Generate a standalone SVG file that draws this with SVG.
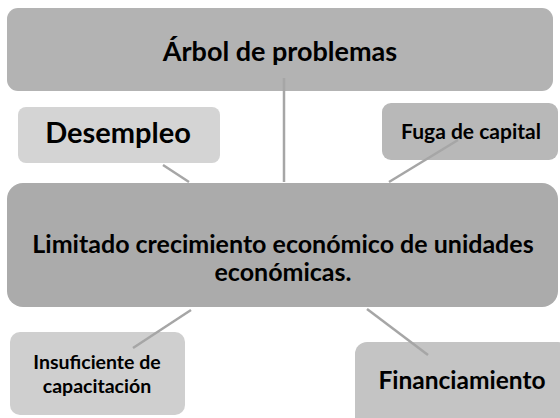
<svg xmlns="http://www.w3.org/2000/svg" width="560" height="418" viewBox="0 0 560 418">
<style>
text{font-family:Lato,"Open Sans","Liberation Sans",sans-serif;font-weight:bold;fill:#000;text-anchor:middle}
.c{stroke:#a6a6a6;stroke-width:2.5;fill:none}
</style>
<rect width="560" height="418" fill="#fff"/>
<g id="top"><rect x="7" y="8" width="546" height="83" rx="11" fill="#b3b3b3"/><text x="280" y="61" font-size="27">Árbol de problemas</text></g>
<g id="desempleo"><rect x="18" y="107" width="202" height="56" rx="8" fill="#d4d4d4"/><text x="118" y="143" font-size="29">Desempleo</text></g>
<g id="fuga"><rect x="382" y="103" width="176" height="57" rx="9" fill="#b8b8b8"/><text x="471" y="139" font-size="21">Fuga de capital</text></g>
<g id="main"><rect x="7" y="183" width="551" height="124" rx="16" fill="#ababab"/><text x="283" y="253" font-size="25">Limitado crecimiento económico de unidades</text><text x="283" y="281" font-size="25">económicas.</text></g>
<g id="insuficiente"><rect x="10" y="332" width="175" height="83" rx="10" fill="#cfcfcf"/><text x="97" y="369" font-size="19.5">Insuficiente de</text><text x="97" y="393" font-size="19.5">capacitación</text></g>
<g id="financiamiento"><rect x="355" y="342" width="215" height="90" rx="12" fill="#c4c4c4"/><text x="462" y="389" font-size="24.5">Financiamiento</text></g>
<g id="connectors">
<line class="c" x1="284" y1="78" x2="284" y2="182"/>
<line class="c" x1="163" y1="165" x2="189" y2="182"/>
<line class="c" x1="458" y1="140" x2="389" y2="182"/>
<line class="c" x1="191" y1="310" x2="133" y2="348"/>
<line class="c" x1="367" y1="309" x2="428" y2="355"/>
</g>
</svg>
